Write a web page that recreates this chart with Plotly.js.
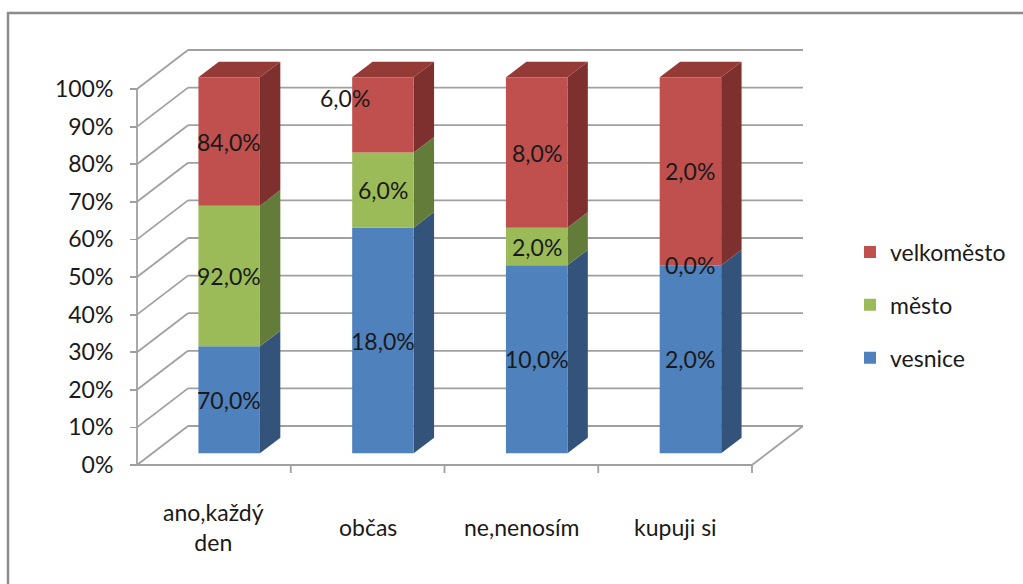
<!DOCTYPE html>
<html>
<head>
<meta charset="utf-8">
<script src="https://cdn.plot.ly/plotly-3.0.1.min.js"></script>
<style>html,body{margin:0;padding:0;background:#fff;}#chart{width:1023px;height:584px;}</style>
</head>
<body>
<div id="chart"></div>
<script>
// ---- data ----
const categories = ["ano,každý<br>den", "občas", "ne,nenosím", "kupuji si"];
const seriesNames = ["vesnice", "město", "velkoměsto"];
const vesnice    = [70, 18, 10, 2];
const mesto      = [92, 6, 2, 0];
const velkomesto = [84, 6, 8, 2];
const yTickVals  = [0,10,20,30,40,50,60,70,80,90,100];
const yTickText  = ["0%","10%","20%","30%","40%","50%","60%","70%","80%","90%","100%"];

// ---- styles ----
const faceColors = ["#4F81BD", "#9BBB59", "#C0504D"];
const sideColors = ["#33537A", "#647C3A", "#7E302E"];
const topColors  = ["#3E6597", "#7D9947", "#943A37"];
const gridColor = "#A0A0A0";
const FONT = "Lato, 'Open Sans', sans-serif";
const FS = 23;

// pseudo-3D geometry (data units)
const W = 1023, H = 584;
const pxPerX = 153.75, pxPerY = 3.76, x0px = 137, y0px = 465;
const xr = [(0 - x0px) / pxPerX, (W - x0px) / pxPerX];
const yr = [(y0px - H) / pxPerY, y0px / pxPerY];
const wallDX = 51 / pxPerX, wallDY = 39 / pxPerY;   // full depth offset
const dFront = 0.3, dBack = 0.7, barW = 0.4;
const n = categories.length;

const series = [vesnice, mesto, velkomesto];
const totals = categories.map((_, i) => series.reduce((s, a) => s + a[i], 0));
const pct = series.map(a => a.map((v, i) => v / totals[i] * 100));

const shapes = [];
const P = (x, y) => x + "," + y;
function poly(pts, fill, layer) {
  shapes.push({type: "path", xref: "x", yref: "y", layer: layer || "below",
    path: "M" + pts.map(p => P(p[0], p[1])).join(" L") + " Z",
    fillcolor: fill, line: {width: 0}});
}
function seg(xa, ya, xb, yb, col, w) {
  shapes.push({type: "line", xref: "x", yref: "y", layer: "below",
    x0: xa, y0: ya, x1: xb, y1: yb, line: {color: col, width: w}});
}
// back-wall gridlines + left wall diagonals
yTickVals.forEach(v => {
  seg(0, v, wallDX, v + wallDY, gridColor, 1.8);
  seg(wallDX, v + wallDY, n + wallDX, v + wallDY, gridColor, 1.8);
});
// floor
seg(0, 0, n, 0, gridColor, 1.8);
seg(n, 0, n + wallDX, wallDY, gridColor, 1.8);
// front vertical axis
seg(0, 0, 0, 100, gridColor, 1.8);
// category separator ticks on floor
for (let i = 1; i <= n; i++) {
  shapes.push({type: "line", xref: "x", yref: "paper", layer: "below",
    x0: i, x1: i, y0: 1 - y0px / H, y1: 1 - (y0px + 8) / H, line: {color: gridColor, width: 1.8}});
}

// bars (front faces as bar traces) + side/top faces as shapes
const fOffX = dFront * wallDX, fOffY = dFront * wallDY;
const dX = (dBack - dFront) * wallDX, dY = (dBack - dFront) * wallDY;
const traces = [];
const annotations = [];
series.forEach((arr, s) => {
  const xs = [], bases = [], ys = [];
  for (let i = 0; i < n; i++) {
    let base = 0;
    for (let k = 0; k < s; k++) base += pct[k][i];
    const h = pct[s][i];
    const cx = i + 0.5 + fOffX;
    xs.push(cx); bases.push(base + fOffY); ys.push(h);
    const xR = cx + barW / 2, xL = cx - barW / 2;
    const yb = base + fOffY, yt = base + h + fOffY;
    if (h > 0) {
      poly([[xR, yb], [xR, yt], [xR + dX, yt + dY], [xR + dX, yb + dY]], sideColors[s]);
      if (s === series.length - 1 || base + h >= 99.999) {
        poly([[xL, yt], [xR, yt], [xR + dX, yt + dY], [xL + dX, yt + dY]], topColors[s]);
      }
    }
    const lbl = arr[i].toFixed(1).replace(".", ",") + "%";
    const a = {x: cx, y: base + h / 2 + fOffY, xref: "x", yref: "y", text: lbl, showarrow: false,
      font: {family: FONT, size: FS, color: "#1a1a1a"}, xanchor: "center", yanchor: "middle"};
    if (s === 2 && i === 1) { a.xshift = -38; a.yshift = 17; }
    annotations.push(a);
  }
  traces.push({type: "bar", name: seriesNames[s], x: xs, y: ys, base: bases, width: barW,
    marker: {color: faceColors[s], line: {width: 0}}, hoverinfo: "skip",
    legendgroup: seriesNames[s], legendrank: 1000 - s});
});

// category labels
categories.forEach((c, i) => {
  annotations.push({x: i + 0.5, y: 1 - 527 / H, xref: "x", yref: "paper", text: c, showarrow: false,
    font: {family: FONT, size: FS, color: "#1a1a1a"}, xanchor: "center", yanchor: "middle", align: "center"});
});

// outer border
shapes.push({type: "rect", xref: "paper", yref: "paper", layer: "above",
  x0: 8 / W, x1: 1.05, y0: -0.05, y1: 1 - 13 / H, line: {color: "#8C8C8C", width: 2.5}, fillcolor: "rgba(0,0,0,0)"});

const layout = {
  width: W, height: H, margin: {l: 0, r: 0, t: 0, b: 0},
  paper_bgcolor: "#fff", plot_bgcolor: "rgba(0,0,0,0)",
  barmode: "overlay", showlegend: true,
  xaxis: {range: xr, visible: false, fixedrange: true},
  yaxis: {range: yr, anchor: "free", position: x0px / W, tickvals: yTickVals, ticktext: yTickText,
    ticks: "outside", ticklen: 7, tickwidth: 1.8, tickcolor: gridColor, ticklabelstandoff: 12,
    showgrid: false, zeroline: false, showline: false,
    tickfont: {family: FONT, size: FS, color: "#1a1a1a"}, fixedrange: true},
  legend: {x: 850 / W, y: 1 - 305 / H, xanchor: "left", yanchor: "middle",
    traceorder: "grouped", tracegroupgap: 20, bgcolor: "rgba(0,0,0,0)",
    font: {family: FONT, size: FS, color: "#1a1a1a"}},
  shapes: shapes, annotations: annotations
};
Plotly.newPlot("chart", traces, layout, {staticPlot: true, displayModeBar: false});
</script>
</body>
</html>
